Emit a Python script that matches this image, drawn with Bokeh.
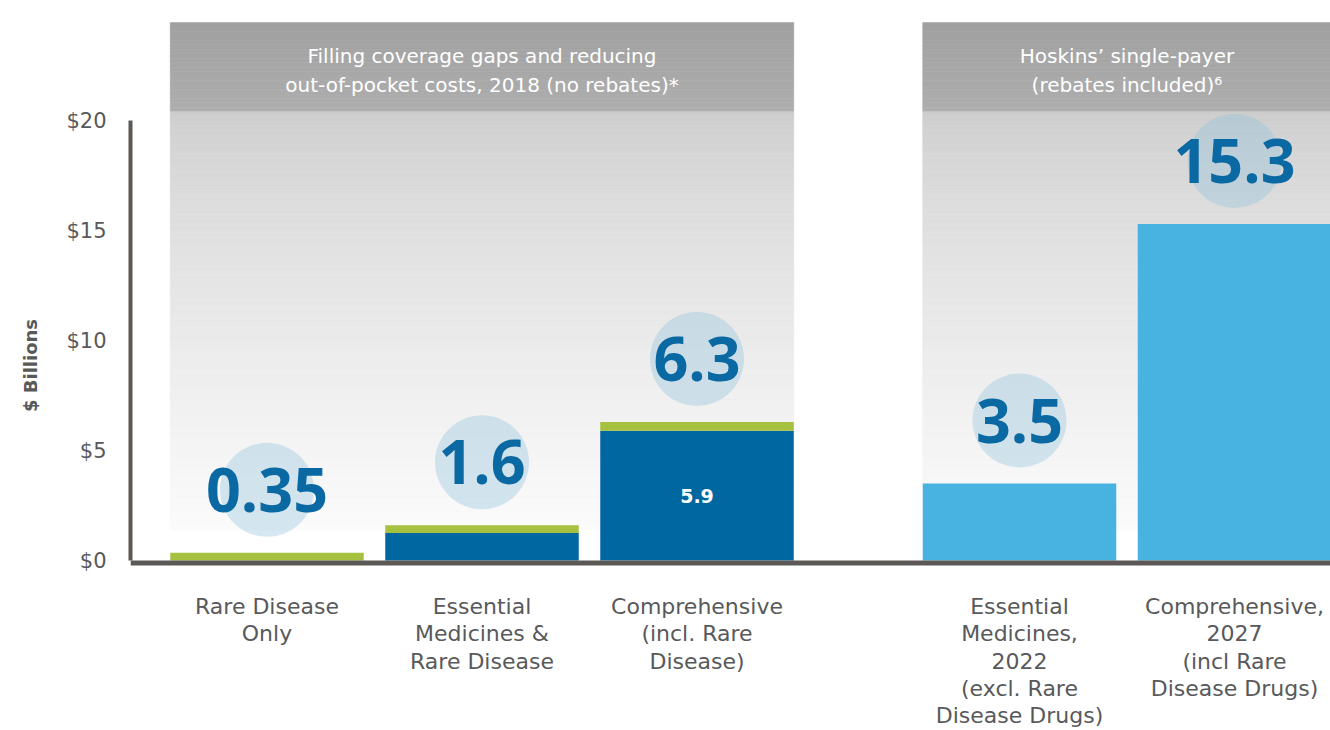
from bokeh.plotting import figure
from bokeh.models import Range1d, FixedTicker, Span, ColumnDataSource
from bokeh.core.properties import value
from bokeh.embed import file_html
from bokeh.resources import INLINE

# ---- data -------------------------------------------------------------
categories = [
    "Rare Disease\nOnly",
    "Essential\nMedicines &\nRare Disease",
    "Comprehensive\n(incl. Rare\nDisease)",
    "Essential\nMedicines,\n2022\n(excl. Rare\nDisease Drugs)",
    "Comprehensive,\n2027\n(incl Rare\nDisease Drugs)",
]
positions = [0, 1, 2, 3.5, 4.5]
totals = [0.35, 1.6, 6.3, 3.5, 15.3]          # $ billions, labelled in bubbles
labels = ["0.35", "1.6", "6.3", "3.5", "15.3"]

# first group: dark base (coverage gaps) + green rare-disease cap
gap_idx = [0, 1, 2]
gap_base = [0.0, 1.25, 5.9]
gap_base_label = ["", "", "5.9"]
# second group: single-payer estimates
sp_idx = [3, 4]

group_titles = [
    "Filling coverage gaps and reducing\nout-of-pocket costs, 2018 (no rebates)*",
    "Hoskins\u2019 single-payer\n(rebates included)\u2076",
]
y_ticks = [0, 5, 10, 15, 20]
y_tick_labels = ["$0", "$5", "$10", "$15", "$20"]

# ---- styling ----------------------------------------------------------
FONT = "DejaVu Sans"
NUM_FONT = "Open Sans"
DARK = "#0067a0"
GREEN = "#a6c13f"
LIGHT = "#48b3e0"
NUM_BLUE = "#0a69a2"
GREY_TXT = "#58595b"
AXIS = "#5b5856"
BAR_W = 0.9
W, H = 1330, 730
Y0, Y1 = -7.727, 25.4545
PX = H / (Y1 - Y0)            # screen pixels per $1B
BUBBLE_LIFT = 63 / PX         # bubbles float a fixed distance above bar tops

p = figure(
    width=W, height=H,
    x_range=Range1d(-0.6349, 4.9465),
    y_range=Range1d(Y0, Y1),
    x_axis_location=None,
    min_border_left=130, min_border_right=0, min_border_top=0, min_border_bottom=0,
    output_backend="svg", toolbar_location=None,
    background_fill_color="white", border_fill_color="white",
)
p.outline_line_color = None
p.grid.visible = False

# ---- panel backgrounds: grey title band over a fading gradient ----------
groups = [
    (positions[gap_idx[0]] - BAR_W / 2, positions[gap_idx[-1]] + BAR_W / 2),
    (positions[sp_idx[0]] - BAR_W / 2, positions[sp_idx[-1]] + BAR_W / 2),
]
band_top, band_bottom, fade_bottom = 24.45, 20.4, 1.35

def grey(v):
    v = int(round(v))
    return "#%02x%02x%02x" % (v, v, v)

n_band, n_fade = 20, 90
bl, br, bt, bb, bc = [], [], [], [], []
for gl, gr in groups:
    for i in range(n_band):
        t0 = band_top - (band_top - band_bottom) * i / n_band
        t1 = band_top - (band_top - band_bottom) * (i + 1) / n_band
        bl.append(gl); br.append(gr); bt.append(t0); bb.append(t1)
        bc.append(grey(160 + 14 * (i + 0.5) / n_band))
    for i in range(n_fade):
        t0 = band_bottom - (band_bottom - fade_bottom) * i / n_fade
        t1 = band_bottom - (band_bottom - fade_bottom) * (i + 1) / n_fade
        f = ((i + 0.5) / n_fade) ** 0.7
        bl.append(gl); br.append(gr); bt.append(t0); bb.append(t1)
        bc.append(grey(204 + 47 * f))
# strips are outlined in their own colour so no seams show between them
p.quad(left=bl, right=br, top=bt, bottom=bb, fill_color=bc, line_color=bc,
       line_width=0.6)

# ---- bars --------------------------------------------------------------
gap_src = ColumnDataSource(dict(
    x=[positions[i] for i in gap_idx],
    base=gap_base,
    top=[totals[i] for i in gap_idx],
    lab=gap_base_label,
    mid=[b / 2 for b in gap_base],
))
p.vbar(x="x", width=BAR_W, bottom=0, top="base", source=gap_src,
       fill_color=DARK, line_color=None)
p.vbar(x="x", width=BAR_W, bottom="base", top="top", source=gap_src,
       fill_color=GREEN, line_color=None)
p.text(x="x", y="mid", text="lab", source=gap_src, text_color="white",
       text_font=value(FONT), text_font_size="19px", text_font_style="bold",
       text_align="center", text_baseline="middle")

p.vbar(x=[positions[i] for i in sp_idx], width=BAR_W, bottom=0,
       top=[totals[i] for i in sp_idx], fill_color=LIGHT, line_color=None)

# ---- value bubbles -------------------------------------------------------
bub = ColumnDataSource(dict(
    x=positions,
    y=[t + BUBBLE_LIFT for t in totals],
    lab=labels,
))
p.scatter(x="x", y="y", size=94, marker="circle", source=bub,
          fill_color="#90c1dc", fill_alpha=0.37, line_color=None)
p.text(x="x", y="y", text="lab", source=bub,
       text_color=NUM_BLUE, text_font=value(NUM_FONT), text_font_size="61px",
       text_font_style="bold", text_align="center", text_baseline="middle")

# ---- baseline & y axis ----------------------------------------------------
p.add_layout(Span(location=-2.5 / PX, dimension="width", line_color=AXIS, line_width=5))

yax = p.yaxis[0]
yax.bounds = (0, 20)
yax.ticker = FixedTicker(ticks=y_ticks)
yax.major_label_overrides = {t: s for t, s in zip(y_ticks, y_tick_labels)}
yax.axis_line_color = AXIS
yax.axis_line_width = 4
yax.major_tick_line_color = None
yax.minor_tick_line_color = None
yax.major_label_standoff = 18
yax.major_label_text_font = FONT
yax.major_label_text_font_size = "21px"
yax.major_label_text_color = GREY_TXT
yax.major_label_text_baseline = "alphabetic"
yax.axis_label = "$ Billions"
yax.axis_label_text_font = FONT
yax.axis_label_text_font_size = "18px"
yax.axis_label_text_font_style = "bold"
yax.axis_label_text_color = GREY_TXT
yax.axis_label_standoff = 22

# ---- category labels and panel titles ------------------------------------
p.text(x=positions, y=[-1.3 - 5 / PX] * len(positions), text=categories,
       text_color=GREY_TXT, text_font=value(FONT), text_font_size="22px",
       text_align="center", text_baseline="top", text_line_height=1.09)

p.text(x=[(g[0] + g[1]) / 2 for g in groups], y=[22.27, 22.27], text=group_titles,
       text_color="white", text_font=value(FONT), text_font_size="20px",
       text_align="center", text_baseline="middle", text_line_height=1.2)

open("out.html", "w").write(file_html(p, INLINE))
